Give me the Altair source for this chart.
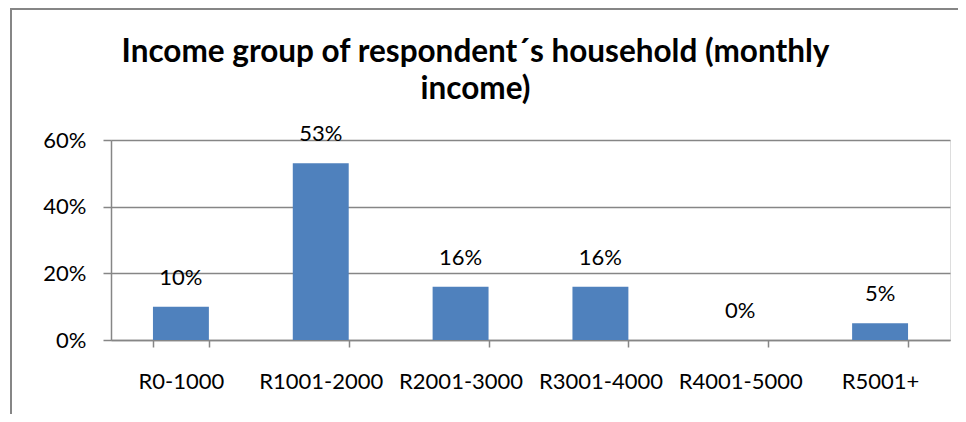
import altair as alt
import pandas as pd

categories = ["R0-1000", "R1001-2000", "R2001-3000", "R3001-4000", "R4001-5000", "R5001+"]
shares = [0.10, 0.53, 0.16, 0.16, 0.00, 0.05]
y_ticks = [0, 0.2, 0.4, 0.6]
title_lines = ["Income group of respondent\u00b4s household (monthly", "income)"]

df = pd.DataFrame({"cat": categories, "share": shares})
FONT = "Lato"
GRID = "#868686"

x = alt.X("cat:N", sort=categories, title=None,
          scale=alt.Scale(paddingInner=0.6, paddingOuter=0.3),
          axis=alt.Axis(labelAngle=0, tickBand="extent", tickSize=7, labelPadding=24,
                        labelBaseline="top", labelFontSize=22, labelFont=FONT,
                        labelColor="black", domainColor=GRID, tickColor=GRID,
                        domainWidth=1.5, tickWidth=1.5))
y = alt.Y("share:Q", title=None,
          scale=alt.Scale(domain=[0, 0.6], nice=False),
          axis=alt.Axis(values=y_ticks, format=".0%", tickSize=8, labelPadding=17,
                        labelFontSize=22, labelFont=FONT, labelColor="black",
                        grid=True, gridColor=GRID, gridWidth=1.5,
                        domainColor=GRID, tickColor=GRID, domainWidth=1.5, tickWidth=1.5))

base = alt.Chart(df)
bars = base.mark_bar(color="#4F81BD").encode(x=x, y=y)
labels = base.mark_text(baseline="middle", dy=-29, fontSize=22, font=FONT, color="black").encode(
    x=alt.X("cat:N", sort=categories), y="share:Q", text=alt.Text("share:Q", format=".0%"))

frame = alt.Chart(pd.DataFrame({"a": [0]}))
top_line = frame.mark_rule(color=GRID, strokeWidth=2).encode(
    x=alt.value(-101), x2=alt.value(900), y=alt.value(-131))
left_line = frame.mark_rule(color=GRID, strokeWidth=2).encode(
    x=alt.value(-100), y=alt.value(-132), y2=alt.value(280))

chart = alt.layer(bars, labels, top_line, left_line).properties(
    width=839, height=200,
    autosize=alt.AutoSizeParams(type="none"),
    padding={"left": 103, "top": 132, "right": 8, "bottom": 74},
    title=alt.TitleParams(text=title_lines, font=FONT, fontSize=31.5, fontWeight="bold",
                          anchor="middle", dx=-55, offset=-98, lineHeight=37, color="black"),
).configure_view(stroke=None).configure(background="white")

chart.save("out.html", embed_options={"renderer": "svg", "actions": False})
